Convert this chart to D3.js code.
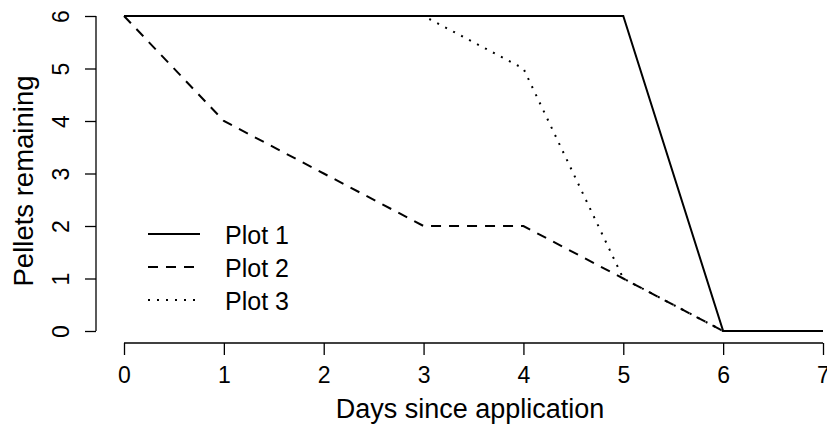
<!DOCTYPE html>
<html>
<head>
<meta charset="utf-8">
<script src="https://cdn.jsdelivr.net/npm/d3@7"></script>
<style>
  body { margin: 0; background: #fff; }
  svg { font-family: "Liberation Sans", Arial, sans-serif; }
</style>
</head>
<body>
<svg width="827" height="427"></svg>
<script>
// data
var days = [0, 1, 2, 3, 4, 5, 6, 7];
var plot1 = [6, 6, 6, 6, 6, 6, 0, 0];
var plot2 = [6, 4, 3, 2, 2, 1, 0, 0];
var plot3 = [6, 6, 6, 6, 5, 1, 0, 0];
var seriesNames = ["Plot 1", "Plot 2", "Plot 3"];
var dashes = [null, "10,8", "2,7"];
var xTicks = [0, 1, 2, 3, 4, 5, 6, 7];
var yTicks = [0, 1, 2, 3, 4, 5, 6];

var svg = d3.select("svg");

var x = d3.scaleLinear().domain([0, 7]).range([124, 823]);
var y = d3.scaleLinear().domain([0, 6]).range([331, 16]);

// x axis (R style: line only spans ticks)
var xAxis = svg.append("g")
  .attr("transform", "translate(0,343)")
  .call(d3.axisBottom(x).tickValues(xTicks).tickFormat(d3.format("d")).tickSize(12).tickSizeOuter(0));
xAxis.select(".domain").attr("d", "M" + x(0) + ",0H" + x(7));
xAxis.selectAll("line, path").attr("stroke", "#000").attr("stroke-width", 1.3);
xAxis.selectAll("text")
  .attr("font-size", 23).attr("fill", "#000")
  .attr("font-family", "Liberation Sans, Arial, sans-serif")
  .attr("dy", null).attr("y", 40);

// y axis with rotated labels
var yAxis = svg.append("g")
  .attr("transform", "translate(96,0)")
  .call(d3.axisLeft(y).tickValues(yTicks).tickFormat(d3.format("d")).tickSize(11).tickSizeOuter(0));
yAxis.select(".domain").attr("d", "M0," + y(0) + "V" + y(6));
yAxis.selectAll("line, path").attr("stroke", "#000").attr("stroke-width", 1.3);
yAxis.selectAll("text")
  .attr("font-size", 23).attr("fill", "#000")
  .attr("font-family", "Liberation Sans, Arial, sans-serif")
  .attr("x", null).attr("dy", null)
  .attr("text-anchor", "middle")
  .attr("transform", "translate(-27,0) rotate(-90)");

// axis titles
svg.append("text")
  .attr("x", 470).attr("y", 418)
  .attr("text-anchor", "middle")
  .attr("font-size", 27)
  .text("Days since application");

svg.append("text")
  .attr("transform", "translate(33,181) rotate(-90)")
  .attr("text-anchor", "middle")
  .attr("font-size", 27.5)
  .text("Pellets remaining");

// lines
var line = d3.line()
  .x(function(d, i) { return x(days[i]); })
  .y(function(d) { return y(d); });

[plot1, plot2, plot3].forEach(function(s, i) {
  svg.append("path")
    .datum(s)
    .attr("d", line)
    .attr("fill", "none")
    .attr("stroke", "#000")
    .attr("stroke-width", 2)
    .attr("stroke-dasharray", dashes[i]);
});

// legend
var legend = svg.append("g")
  .selectAll("g")
  .data(seriesNames)
  .enter().append("g")
  .attr("transform", function(d, i) { return "translate(0," + (234 + i * 33) + ")"; });

legend.append("line")
  .attr("x1", 148).attr("x2", 200)
  .attr("stroke", "#000").attr("stroke-width", 2)
  .attr("stroke-dasharray", function(d, i) { return dashes[i]; });

legend.append("text")
  .attr("x", 225).attr("y", 10)
  .attr("font-size", 25)
  .text(function(d) { return d; });
</script>
</body>
</html>
